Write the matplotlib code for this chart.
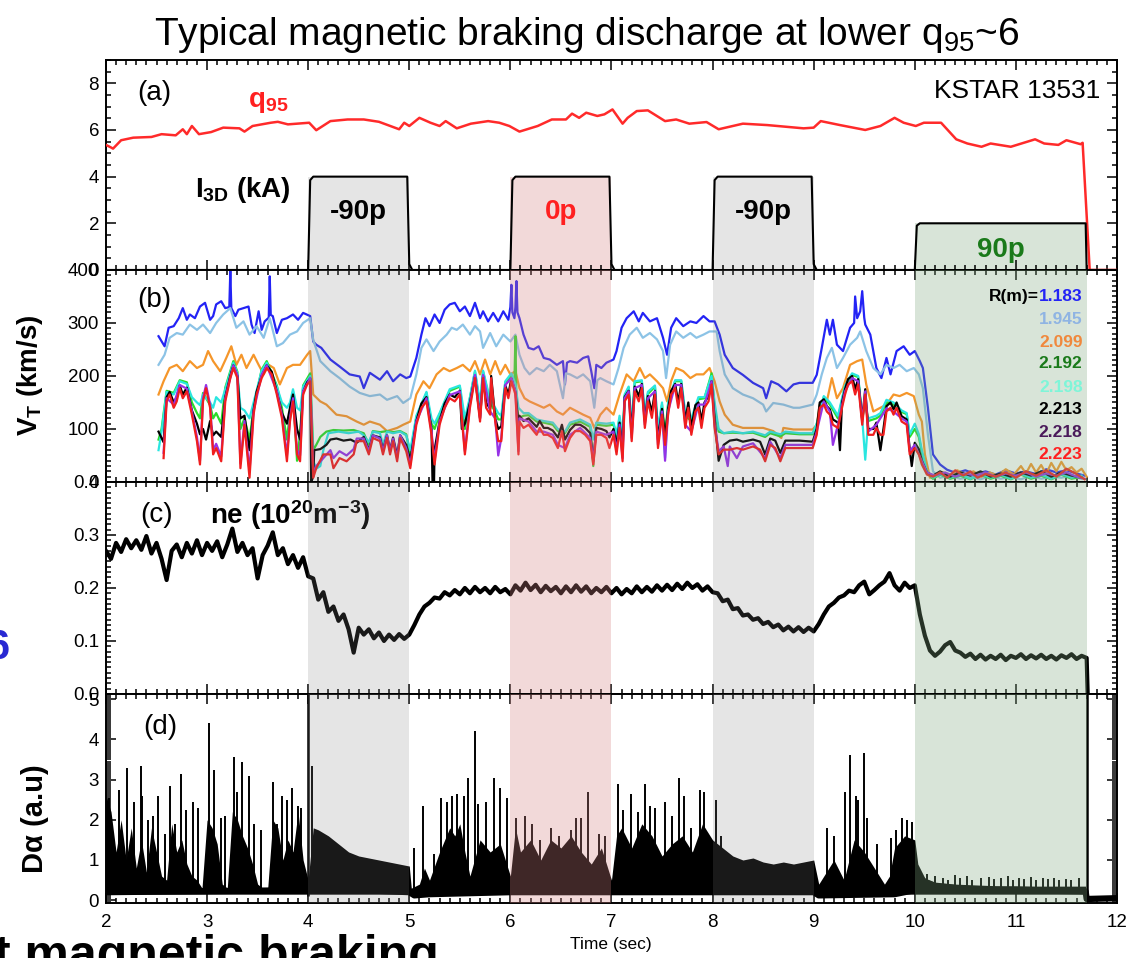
import numpy as np
import matplotlib
matplotlib.use('agg')
import matplotlib.pyplot as plt
from matplotlib.ticker import MultipleLocator

plt.rcParams['font.family'] = ['Liberation Sans', 'DejaVu Sans']
plt.rcParams['mathtext.default'] = 'regular'

# ---- RMP pulses (I3D) ----
pulse_on = [4.0, 6.0, 8.0, 10.0]
pulse_off = [5.0, 7.0, 9.0, 11.70]
pulse_amp = [4.0, 4.0, 4.0, 2.0]
pulse_name = ['-90p', '0p', '-90p', '90p']
pulse_txt_col = ['black', '#ff2020', 'black', '#1a7a1a']
shade_col = ['#808080', '#d48484', '#808080', '#80a880']
shade_alpha = [0.2, 0.3, 0.2, 0.3]

i3d_t = [2.0, 4.0, 4.02, 4.05, 4.98, 5.0, 5.03, 6.0, 6.02, 6.05, 6.98, 7.0, 7.03,
         8.0, 8.02, 8.05, 8.98, 9.0, 9.03, 10.0, 10.02, 10.05, 11.69, 11.70, 12.0]
i3d_v = [0, 0, 3.85, 4.0, 4.0, 0.25, 0, 0, 3.85, 4.0, 4.0, 0.25, 0,
         0, 3.85, 4.0, 4.0, 0.25, 0, 0, 1.9, 2.0, 2.0, 0, 0]

# ---- q95 ----
q95_t = [2.0, 2.05, 2.07, 2.15, 2.27, 2.45, 2.55, 2.69, 2.76, 2.80, 2.85, 2.92, 3.04, 3.16,
         3.32, 3.37, 3.45, 3.63, 3.70, 3.80, 4.01, 4.08, 4.22, 4.39, 4.55, 4.70, 4.90, 4.95,
         5.0, 5.10, 5.21, 5.30, 5.36, 5.47, 5.61, 5.78, 5.89, 5.99, 6.09, 6.27, 6.41, 6.55,
         6.61, 6.68, 6.75, 6.86, 6.93, 7.01, 7.11, 7.16, 7.25, 7.36, 7.53, 7.64, 7.77, 7.94,
         8.06, 8.30, 8.54, 8.90, 9.0, 9.07, 9.26, 9.51, 9.66, 9.80, 9.89, 10.01, 10.09, 10.26,
         10.41, 10.52, 10.66, 10.75, 10.95, 11.19, 11.28, 11.42, 11.50, 11.64, 11.66, 11.73, 12.0]
q95_v = [5.36, 5.25, 5.2, 5.56, 5.67, 5.70, 5.82, 5.77, 6.03, 5.82, 6.17, 5.82, 5.91, 6.1,
         6.07, 5.93, 6.17, 6.31, 6.35, 6.24, 6.31, 5.99, 6.38, 6.45, 6.45, 6.35, 6.03, 6.31,
         6.17, 6.52, 6.31, 6.17, 6.38, 6.07, 6.27, 6.38, 6.31, 6.17, 5.93, 6.17, 6.45, 6.45,
         6.70, 6.52, 6.74, 6.6, 6.67, 6.88, 6.27, 6.52, 6.81, 6.84, 6.38, 6.45, 6.27, 6.34,
         6.03, 6.27, 6.21, 6.07, 6.1, 6.38, 6.21, 6.0, 6.17, 6.52, 6.31, 6.17, 6.31, 6.31,
         5.6, 5.42, 5.28, 5.42, 5.28, 5.6, 5.42, 5.36, 5.56, 5.39, 5.45, 0.0, 0.0]

# ---- toroidal rotation V_T (km/s) ----
r_labels = ['1.183', '1.945', '2.099', '2.192', '2.198', '2.213', '2.218', '2.223']
r_label_col = ['#2323f5', '#8fb4e3', '#f0883c', '#1a7a1a', '#7ff5d8', 'black', '#4a1a5a', '#ff2020']
r_trace_col = ['#2323f5', '#8cc3e6', '#f5962a', '#2adc2a', '#2ae6e0', 'black', '#9632e6', '#f01e1e']

v1_t = [2.52, 2.58, 2.62, 2.67, 2.72, 2.76, 2.80, 2.83, 2.88, 2.93, 2.98, 3.03, 3.06, 3.09, 3.14, 3.18,
        3.22, 3.23, 3.24, 3.28, 3.31, 3.36, 3.41, 3.44, 3.47, 3.51, 3.54, 3.57, 3.61, 3.62, 3.63, 3.65,
        3.69, 3.74, 3.79, 3.85, 3.90, 3.95, 4.02, 4.05, 4.08, 4.13, 4.22, 4.31, 4.41, 4.51, 4.55, 4.61,
        4.71, 4.78, 4.84, 4.91, 4.97, 5.01, 5.07, 5.12, 5.16, 5.20, 5.25, 5.30, 5.35, 5.40, 5.45, 5.50,
        5.55, 5.60, 5.65, 5.70, 5.73, 5.78, 5.83, 5.88, 5.93, 5.98, 6.00, 6.01, 6.02, 6.04, 6.05, 6.06,
        6.07, 6.09, 6.13, 6.18, 6.23, 6.28, 6.33, 6.39, 6.46, 6.52, 6.54, 6.56, 6.59, 6.66, 6.72, 6.77,
        6.80, 6.83, 6.85, 6.90, 6.95, 7.02, 7.05, 7.10, 7.15, 7.22, 7.27, 7.31, 7.38, 7.45, 7.51, 7.55,
        7.59, 7.64, 7.71, 7.78, 7.84, 7.91, 7.97, 8.02, 8.07, 8.12, 8.20, 8.30, 8.40, 8.50, 8.53, 8.58,
        8.65, 8.73, 8.80, 8.86, 8.90, 8.99, 9.03, 9.08, 9.13, 9.16, 9.19, 9.23, 9.29, 9.36, 9.40, 9.41,
        9.43, 9.46, 9.48, 9.50, 9.51, 9.56, 9.62, 9.67, 9.72, 9.76, 9.82, 9.89, 9.95, 10.00, 10.05, 10.08,
        10.13, 10.18, 10.25, 10.32, 10.41, 10.50, 10.60, 10.70, 10.80, 10.90, 11.00, 11.10, 11.20, 11.30,
        11.40, 11.50, 11.60, 11.68]
v1_v = [275, 256, 291, 294, 309, 328, 306, 316, 309, 331, 338, 306, 313, 335, 341, 328,
        330, 398, 328, 313, 325, 328, 331, 297, 281, 322, 287, 303, 310, 388, 315, 313,
        281, 306, 309, 316, 306, 319, 313, 265, 259, 253, 231, 218, 203, 199, 177, 206,
        193, 209, 190, 203, 196, 199, 234, 278, 309, 294, 316, 300, 325, 335, 338, 322,
        331, 313, 338, 309, 322, 303, 319, 303, 322, 306, 330, 372, 320, 309, 330, 379,
        320, 309, 278, 253, 250, 256, 234, 231, 221, 228, 184, 225, 228, 225, 234, 237,
        209, 177, 221, 215, 225, 231, 247, 291, 309, 322, 303, 319, 303, 309, 272, 240,
        291, 309, 294, 303, 300, 313, 303, 303, 278, 240, 215, 202, 187, 177, 158, 190,
        184, 171, 184, 187, 187, 187, 202, 253, 306, 278, 306, 259, 247, 291, 300, 350,
        309, 322, 360, 310, 297, 278, 215, 196, 234, 203, 247, 256, 240, 247, 228, 215,
        140, 52, 33, 23, 17, 22, 15, 20, 14, 22, 16, 20, 15, 24,
        18, 22, 16, 12]

v2_t = [2.52, 2.58, 2.63, 2.70, 2.76, 2.83, 2.90, 2.96, 3.03, 3.09, 3.16, 3.23, 3.29, 3.36, 3.42, 3.49,
        3.56, 3.62, 3.69, 3.75, 3.82, 3.89, 3.95, 4.02, 4.05, 4.12, 4.22, 4.31, 4.41, 4.51, 4.61, 4.71,
        4.78, 4.88, 4.94, 5.01, 5.07, 5.12, 5.17, 5.24, 5.30, 5.37, 5.42, 5.47, 5.53, 5.60, 5.65, 5.70,
        5.73, 5.80, 5.86, 5.93, 6.00, 6.05, 6.09, 6.14, 6.19, 6.26, 6.33, 6.39, 6.46, 6.52, 6.55, 6.59,
        6.66, 6.72, 6.79, 6.83, 6.86, 6.89, 6.95, 7.02, 7.07, 7.12, 7.18, 7.25, 7.31, 7.38, 7.45, 7.51,
        7.54, 7.58, 7.64, 7.71, 7.78, 7.84, 7.91, 7.97, 8.04, 8.07, 8.12, 8.20, 8.30, 8.40, 8.50, 8.53,
        8.60, 8.70, 8.80, 8.86, 8.99, 9.03, 9.08, 9.13, 9.18, 9.23, 9.29, 9.36, 9.43, 9.46, 9.52, 9.59,
        9.66, 9.72, 9.79, 9.85, 9.92, 9.99, 10.04, 10.08, 10.13, 10.18, 10.25, 10.35, 10.45, 10.55,
        10.65, 10.75, 10.85, 10.95, 11.05, 11.15, 11.25, 11.35, 11.45, 11.55, 11.65]
v2_v = [221, 240, 272, 281, 278, 297, 287, 297, 281, 300, 316, 328, 291, 303, 278, 294,
        272, 309, 256, 262, 278, 284, 300, 309, 268, 228, 209, 196, 180, 168, 162, 165,
        155, 162, 149, 158, 203, 253, 269, 247, 265, 278, 291, 287, 297, 278, 294, 284,
        253, 281, 256, 278, 265, 278, 240, 215, 203, 215, 209, 221, 209, 158, 205, 203,
        196, 203, 190, 140, 192, 196, 190, 184, 215, 253, 278, 291, 272, 281, 269, 247,
        196, 259, 284, 272, 281, 272, 278, 284, 284, 247, 203, 177, 165, 158, 146, 133,
        149, 146, 140, 140, 146, 165, 203, 234, 253, 215, 234, 259, 272, 284, 247, 215,
        203, 221, 215, 221, 209, 215, 203, 177, 89, 20, 8, 12, 6, 10,
        5, 12, 6, 10, 5, 12, 6, 10, 8, 12, 6]

v3_t = [2.52, 2.57, 2.63, 2.70, 2.76, 2.83, 2.90, 2.96, 3.01, 3.06, 3.13, 3.19, 3.24, 3.29, 3.34, 3.39,
        3.46, 3.51, 3.56, 3.61, 3.66, 3.72, 3.79, 3.85, 3.92, 3.99, 4.02, 4.05, 4.12, 4.18, 4.28, 4.38,
        4.48, 4.55, 4.61, 4.71, 4.78, 4.88, 4.94, 5.01, 5.07, 5.14, 5.20, 5.27, 5.34, 5.40, 5.47, 5.53,
        5.60, 5.65, 5.70, 5.75, 5.80, 5.85, 5.90, 5.95, 6.00, 6.05, 6.09, 6.14, 6.19, 6.26, 6.33, 6.39,
        6.46, 6.52, 6.59, 6.66, 6.72, 6.79, 6.83, 6.89, 6.95, 7.02, 7.08, 7.15, 7.22, 7.28, 7.33, 7.38,
        7.45, 7.51, 7.55, 7.59, 7.64, 7.71, 7.78, 7.84, 7.91, 7.97, 8.02, 8.07, 8.12, 8.20, 8.30, 8.40,
        8.50, 8.60, 8.68, 8.70, 8.80, 8.99, 9.03, 9.06, 9.13, 9.18, 9.23, 9.29, 9.36, 9.43, 9.48, 9.52,
        9.59, 9.66, 9.72, 9.79, 9.85, 9.92, 9.99, 10.04, 10.07, 10.10, 10.15, 10.20, 10.28, 10.35, 10.42,
        10.50, 10.58, 10.66, 10.74, 10.82, 10.90, 10.98, 11.05, 11.10, 11.15, 11.20, 11.25, 11.30, 11.35,
        11.40, 11.45, 11.50, 11.55, 11.60, 11.65, 11.70]
v3_v = [165, 190, 215, 221, 209, 228, 215, 221, 247, 228, 209, 234, 256, 221, 240, 215,
        240, 221, 203, 221, 215, 184, 215, 221, 221, 240, 247, 165, 152, 146, 127, 124,
        114, 108, 114, 108, 96, 102, 108, 114, 165, 190, 177, 203, 215, 209, 215, 221,
        209, 228, 203, 231, 203, 228, 203, 221, 203, 209, 177, 158, 152, 146, 140, 146,
        133, 127, 140, 133, 127, 121, 102, 127, 140, 127, 165, 203, 190, 215, 196, 203,
        190, 177, 152, 190, 215, 209, 196, 203, 203, 215, 190, 152, 127, 108, 102, 102,
        102, 96, 83, 102, 99, 99, 108, 146, 152, 196, 158, 177, 221, 228, 231, 184,
        133, 140, 146, 165, 162, 168, 162, 127, 114, 52, 8, 10, 18, 12, 22,
        14, 20, 10, 18, 12, 24, 14, 30, 16, 34, 18, 32, 15, 36,
        20, 38, 22, 28, 18, 25, 10]

v4_t = [2.52, 2.55, 2.60, 2.67, 2.73, 2.80, 2.85, 2.90, 2.93, 2.96, 3.03, 3.06, 3.09, 3.14, 3.18, 3.26,
        3.30, 3.33, 3.37, 3.42, 3.46, 3.54, 3.59, 3.69, 3.74, 3.79, 3.82, 3.85, 3.89, 3.92, 3.95, 4.02,
        4.05, 4.08, 4.12, 4.18, 4.25, 4.35, 4.45, 4.55, 4.60, 4.64, 4.71, 4.78, 4.84, 4.91, 4.97, 5.01,
        5.07, 5.17, 5.22, 5.25, 5.30, 5.40, 5.50, 5.55, 5.60, 5.65, 5.70, 5.73, 5.80, 5.85, 5.88, 5.91,
        5.95, 6.01, 6.04, 6.05, 6.06, 6.08, 6.13, 6.18, 6.26, 6.33, 6.42, 6.47, 6.54, 6.59, 6.69, 6.79,
        6.82, 6.85, 6.95, 7.02, 7.05, 7.08, 7.11, 7.13, 7.17, 7.20, 7.23, 7.30, 7.33, 7.36, 7.43, 7.46,
        7.50, 7.53, 7.56, 7.63, 7.69, 7.73, 7.79, 7.86, 7.92, 7.99, 8.02, 8.06, 8.11, 8.20, 8.30, 8.40,
        8.52, 8.57, 8.67, 8.72, 8.86, 8.99, 9.03, 9.10, 9.16, 9.24, 9.31, 9.38, 9.44, 9.48, 9.51, 9.54,
        9.62, 9.66, 9.72, 9.79, 9.87, 9.92, 9.95, 10.00, 10.04, 10.07, 10.12, 10.18, 10.25, 10.35, 10.45,
        10.55, 10.65, 10.75, 10.85, 10.95, 11.05, 11.15, 11.25, 11.35, 11.45, 11.55, 11.65]
v4_v = [80, 100, 172, 168, 192, 188, 150, 130, 120, 168, 145, 120, 130, 110, 178, 228,
        208, 100, 120, 80, 140, 212, 228, 182, 140, 80, 130, 170, 40, 90, 182, 205,
        60, 70, 85, 95, 98, 97, 98, 92, 70, 96, 94, 96, 94, 96, 90, 50,
        122, 168, 110, 100, 128, 172, 180, 100, 158, 208, 140, 208, 150, 132, 118, 118,
        188, 200, 190, 275, 150, 120, 125, 126, 114, 112, 108, 96, 92, 108, 114, 104,
        30, 108, 106, 108, 86, 120, 75, 162, 178, 105, 188, 190, 125, 166, 180, 95,
        146, 90, 146, 190, 190, 125, 115, 156, 158, 205, 140, 95, 92, 93, 92, 93,
        85, 92, 86, 92, 90, 90, 108, 160, 146, 120, 180, 202, 198, 118, 150, 115,
        120, 125, 150, 146, 132, 128, 85, 100, 85, 55, 18, 6, 14, 6, 12,
        5, 14, 6, 12, 5, 14, 6, 12, 5, 14, 6, 10]

v5_t = [2.52, 2.55, 2.60, 2.67, 2.73, 2.80, 2.85, 2.90, 2.93, 2.96, 3.03, 3.06, 3.09, 3.14, 3.18, 3.26,
        3.30, 3.33, 3.37, 3.42, 3.46, 3.54, 3.59, 3.69, 3.74, 3.79, 3.82, 3.85, 3.89, 3.92, 3.95, 4.02,
        4.05, 4.08, 4.12, 4.15, 4.20, 4.30, 4.40, 4.50, 4.55, 4.60, 4.64, 4.71, 4.74, 4.78, 4.84, 4.91,
        4.97, 5.01, 5.07, 5.17, 5.22, 5.25, 5.30, 5.40, 5.50, 5.55, 5.60, 5.65, 5.70, 5.73, 5.80, 5.85,
        5.88, 5.91, 5.95, 6.01, 6.05, 6.08, 6.13, 6.18, 6.26, 6.33, 6.42, 6.47, 6.54, 6.59, 6.69, 6.79,
        6.82, 6.85, 6.95, 7.02, 7.05, 7.08, 7.11, 7.13, 7.17, 7.20, 7.23, 7.30, 7.33, 7.36, 7.43, 7.46,
        7.50, 7.53, 7.56, 7.63, 7.69, 7.73, 7.79, 7.86, 7.92, 7.99, 8.02, 8.06, 8.11, 8.20, 8.30, 8.40,
        8.52, 8.57, 8.67, 8.72, 8.86, 8.99, 9.03, 9.10, 9.16, 9.24, 9.31, 9.38, 9.44, 9.48, 9.51, 9.54,
        9.62, 9.66, 9.72, 9.79, 9.87, 9.92, 9.95, 10.00, 10.04, 10.07, 10.12, 10.18, 10.25, 10.35, 10.45,
        10.55, 10.65, 10.75, 10.85, 10.95, 11.05, 11.15, 11.25, 11.35, 11.45, 11.55, 11.65]
v5_v = [60, 95, 170, 165, 190, 185, 160, 150, 145, 165, 150, 140, 160, 150, 175, 225,
        205, 140, 135, 120, 150, 210, 225, 180, 150, 140, 150, 175, 140, 135, 180, 200,
        40, 25, 30, 60, 92, 95, 92, 95, 88, 75, 95, 92, 70, 95, 92, 95,
        88, 60, 125, 170, 120, 110, 130, 175, 182, 120, 160, 210, 150, 210, 155, 140,
        130, 125, 190, 205, 185, 140, 130, 130, 118, 115, 112, 100, 95, 112, 118, 108,
        80, 112, 110, 112, 90, 125, 80, 165, 180, 110, 190, 192, 130, 170, 182, 100,
        150, 45, 150, 192, 192, 130, 120, 160, 160, 200, 150, 100, 92, 95, 92, 95,
        88, 95, 90, 95, 92, 92, 110, 162, 150, 125, 182, 205, 200, 120, 42, 120,
        125, 130, 155, 150, 135, 130, 90, 110, 90, 60, 20, 8, 15, 8, 14,
        6, 15, 8, 14, 6, 15, 8, 14, 6, 15, 8, 12]

v6_t = [2.52, 2.57, 2.60, 2.63, 2.67, 2.70, 2.73, 2.76, 2.80, 2.85, 2.90, 2.93, 2.96, 2.99, 3.03, 3.06,
        3.09, 3.14, 3.18, 3.23, 3.26, 3.30, 3.33, 3.37, 3.42, 3.46, 3.49, 3.54, 3.59, 3.64, 3.69, 3.74,
        3.79, 3.82, 3.85, 3.89, 3.92, 3.95, 3.99, 4.02, 4.03, 4.05, 4.06, 4.12, 4.18, 4.22, 4.28, 4.35,
        4.42, 4.48, 4.55, 4.60, 4.64, 4.71, 4.74, 4.78, 4.81, 4.84, 4.88, 4.91, 4.97, 5.01, 5.07, 5.12,
        5.17, 5.22, 5.23, 5.245, 5.25, 5.30, 5.35, 5.40, 5.45, 5.50, 5.52, 5.55, 5.60, 5.65, 5.70, 5.73,
        5.76, 5.80, 5.81, 5.85, 5.88, 5.91, 5.95, 5.98, 6.01, 6.05, 6.08, 6.09, 6.13, 6.18, 6.23, 6.26,
        6.29, 6.33, 6.37, 6.42, 6.47, 6.51, 6.54, 6.59, 6.64, 6.69, 6.74, 6.79, 6.82, 6.85, 6.90, 6.95,
        6.98, 7.02, 7.05, 7.08, 7.11, 7.13, 7.17, 7.20, 7.23, 7.27, 7.30, 7.33, 7.36, 7.40, 7.43, 7.46,
        7.50, 7.53, 7.56, 7.59, 7.63, 7.66, 7.69, 7.73, 7.76, 7.79, 7.83, 7.86, 7.89, 7.92, 7.96, 7.99,
        8.02, 8.06, 8.11, 8.17, 8.24, 8.30, 8.40, 8.47, 8.52, 8.57, 8.62, 8.67, 8.72, 8.80, 8.86, 8.99,
        9.03, 9.06, 9.10, 9.13, 9.16, 9.19, 9.24, 9.26, 9.28, 9.31, 9.34, 9.38, 9.41, 9.44, 9.48, 9.51,
        9.54, 9.59, 9.62, 9.66, 9.69, 9.72, 9.76, 9.79, 9.82, 9.87, 9.92, 9.95, 9.97, 10.00, 10.04, 10.07,
        10.12, 10.18, 10.25, 10.35, 10.45, 10.55, 10.65, 10.75, 10.85, 10.95, 11.05, 11.15, 11.25, 11.35,
        11.45, 11.55, 11.65]
v6_v = [95, 75, 160, 170, 150, 160, 182, 165, 178, 135, 110, 90, 100, 80, 115, 88,
        95, 85, 160, 200, 220, 200, 120, 125, 60, 135, 170, 200, 220, 208, 170, 130,
        110, 140, 165, 100, 80, 170, 188, 195, 0, 10, 60, 62, 70, 80, 82, 78,
        80, 74, 85, 60, 88, 84, 60, 88, 60, 84, 50, 88, 70, 40, 115, 148,
        160, 100, 0, 0, 60, 115, 148, 165, 160, 172, 100, 110, 150, 200, 120, 200,
        150, 138, 200, 120, 100, 105, 182, 165, 195, 170, 110, 125, 115, 120, 110, 104,
        115, 102, 102, 97, 84, 108, 80, 98, 108, 108, 102, 92, 40, 102, 100, 96,
        84, 100, 70, 112, 60, 160, 172, 95, 180, 162, 185, 115, 162, 132, 172, 80,
        138, 85, 138, 172, 185, 150, 185, 115, 150, 102, 145, 150, 115, 150, 162, 190,
        120, 40, 70, 78, 80, 76, 80, 76, 52, 82, 78, 55, 78, 78, 78, 76,
        100, 150, 156, 143, 137, 118, 112, 60, 150, 175, 194, 200, 175, 194, 118, 175,
        100, 100, 112, 60, 100, 143, 150, 137, 150, 124, 118, 62, 30, 74, 62, 40,
        18, 12, 20, 10, 18, 12, 20, 10, 16, 10, 18, 12, 20, 10,
        18, 12, 8]

v7_t = [2.57, 2.60, 2.67, 2.73, 2.80, 2.85, 2.90, 2.93, 2.96, 2.99, 3.03, 3.06, 3.09, 3.14, 3.18, 3.26,
        3.30, 3.33, 3.37, 3.42, 3.46, 3.54, 3.59, 3.69, 3.74, 3.79, 3.82, 3.85, 3.89, 3.92, 3.95, 4.02,
        4.05, 4.08, 4.22, 4.25, 4.31, 4.38, 4.45, 4.48, 4.55, 4.60, 4.64, 4.71, 4.74, 4.78, 4.81, 4.84,
        4.88, 4.91, 4.97, 5.01, 5.07, 5.17, 5.22, 5.25, 5.30, 5.40, 5.50, 5.55, 5.60, 5.65, 5.70, 5.73,
        5.80, 5.85, 5.88, 5.91, 5.95, 6.01, 6.05, 6.08, 6.09, 6.18, 6.26, 6.33, 6.42, 6.47, 6.54, 6.59,
        6.69, 6.79, 6.82, 6.85, 6.95, 7.02, 7.05, 7.08, 7.11, 7.13, 7.17, 7.20, 7.23, 7.30, 7.33, 7.36,
        7.43, 7.46, 7.50, 7.53, 7.56, 7.63, 7.69, 7.73, 7.79, 7.86, 7.92, 7.99, 8.02, 8.06, 8.11, 8.15,
        8.17, 8.24, 8.30, 8.40, 8.52, 8.57, 8.67, 8.72, 8.86, 8.99, 9.03, 9.10, 9.16, 9.19, 9.24, 9.31,
        9.38, 9.44, 9.48, 9.51, 9.54, 9.62, 9.72, 9.79, 9.87, 9.92, 9.95, 10.00, 10.07, 10.12, 10.2,
        10.3, 10.4, 10.5, 10.6, 10.7, 10.8, 10.9, 11.0, 11.1, 11.2, 11.3, 11.4, 11.5, 11.6, 11.68]
v7_v = [55, 158, 146, 183, 176, 133, 85, 40, 158, 183, 146, 60, 72, 48, 158, 220,
        202, 35, 115, 20, 133, 202, 220, 171, 127, 50, 120, 158, 60, 50, 171, 196,
        15, 30, 60, 45, 58, 50, 62, 82, 82, 58, 88, 82, 58, 88, 58, 82,
        45, 88, 64, 32, 114, 158, 95, 40, 114, 164, 171, 58, 146, 202, 120, 202,
        133, 120, 50, 83, 183, 196, 171, 58, 120, 114, 95, 95, 89, 70, 64, 89,
        102, 83, 39, 95, 89, 95, 58, 108, 45, 158, 171, 83, 177, 183, 108, 158,
        171, 70, 133, 40, 133, 183, 183, 108, 95, 146, 146, 190, 108, 58, 67, 30,
        67, 45, 67, 73, 45, 76, 45, 70, 70, 70, 95, 152, 133, 70, 108, 171,
        196, 190, 114, 171, 95, 108, 139, 133, 120, 114, 58, 70, 39, 18, 12,
        18, 10, 16, 12, 18, 10, 16, 12, 18, 10, 16, 12, 18, 10, 6]

v8_t = [2.57, 2.60, 2.63, 2.67, 2.70, 2.73, 2.76, 2.80, 2.85, 2.90, 2.93, 2.96, 2.99, 3.03, 3.06, 3.09,
        3.14, 3.18, 3.23, 3.26, 3.30, 3.33, 3.37, 3.42, 3.46, 3.49, 3.54, 3.59, 3.64, 3.69, 3.74, 3.79,
        3.82, 3.85, 3.89, 3.92, 3.95, 3.99, 4.02, 4.05, 4.08, 4.15, 4.22, 4.25, 4.31, 4.38, 4.45, 4.48,
        4.55, 4.60, 4.64, 4.71, 4.74, 4.78, 4.81, 4.84, 4.88, 4.91, 4.97, 5.01, 5.07, 5.12, 5.17, 5.22,
        5.25, 5.30, 5.35, 5.40, 5.45, 5.50, 5.55, 5.60, 5.65, 5.70, 5.73, 5.76, 5.80, 5.81, 5.85, 5.88,
        5.91, 5.95, 5.98, 6.01, 6.05, 6.08, 6.09, 6.13, 6.18, 6.23, 6.26, 6.29, 6.33, 6.37, 6.42, 6.47,
        6.51, 6.54, 6.59, 6.64, 6.69, 6.74, 6.79, 6.82, 6.85, 6.90, 6.95, 6.98, 7.02, 7.05, 7.08, 7.11,
        7.13, 7.17, 7.20, 7.23, 7.27, 7.30, 7.33, 7.36, 7.40, 7.43, 7.46, 7.50, 7.53, 7.56, 7.59, 7.63,
        7.66, 7.69, 7.73, 7.76, 7.79, 7.83, 7.86, 7.89, 7.92, 7.96, 7.99, 8.02, 8.06, 8.11, 8.17, 8.24,
        8.30, 8.40, 8.47, 8.52, 8.57, 8.62, 8.67, 8.72, 8.80, 8.86, 8.99, 9.03, 9.06, 9.10, 9.13, 9.16,
        9.19, 9.24, 9.28, 9.31, 9.34, 9.38, 9.41, 9.44, 9.48, 9.51, 9.54, 9.59, 9.62, 9.66, 9.69, 9.72,
        9.76, 9.79, 9.82, 9.87, 9.92, 9.95, 10.00, 10.04, 10.07, 10.12, 10.18, 10.25, 10.32, 10.40, 10.48,
        10.55, 10.62, 10.70, 10.80, 10.90, 11.00, 11.10, 11.20, 11.30, 11.40, 11.50, 11.60, 11.68]
v8_v = [45, 152, 165, 140, 152, 177, 158, 171, 127, 77, 33, 152, 177, 140, 52, 64,
        39, 152, 196, 215, 196, 26, 108, 8, 127, 165, 196, 215, 203, 165, 121, 39,
        114, 152, 52, 39, 165, 184, 190, 8, 26, 52, 52, 26, 45, 39, 52, 77,
        77, 52, 83, 77, 52, 83, 52, 77, 39, 83, 58, 26, 108, 140, 152, 89,
        33, 108, 140, 158, 152, 165, 52, 140, 196, 114, 196, 140, 127, 196, 114, 77,
        77, 177, 158, 190, 165, 52, 114, 102, 108, 96, 89, 102, 89, 89, 83, 64,
        96, 58, 83, 96, 96, 89, 77, 33, 89, 89, 83, 64, 89, 52, 102, 39,
        152, 165, 77, 171, 152, 177, 102, 152, 121, 165, 64, 127, 70, 127, 165, 177,
        140, 177, 102, 140, 89, 133, 140, 102, 140, 152, 184, 102, 52, 61, 61, 64,
        61, 67, 61, 39, 70, 64, 39, 64, 64, 64, 64, 89, 140, 146, 133, 127,
        108, 102, 140, 165, 184, 190, 165, 184, 108, 165, 89, 89, 102, 89, 89, 133,
        140, 127, 140, 114, 108, 52, 64, 52, 33, 14, 10, 18, 8, 22, 12,
        20, 8, 15, 10, 18, 8, 20, 12, 22, 10, 25, 15, 5]

vt_t = [v1_t, v2_t, v3_t, v4_t, v5_t, v6_t, v7_t, v8_t]
vt_v = [v1_v, v2_v, v3_v, v4_v, v5_v, v6_v, v7_v, v8_v]

# ---- line averaged density (1e20 m^-3) ----
ne_t = [2.00, 2.05, 2.10, 2.15, 2.20, 2.25, 2.30, 2.35, 2.40, 2.45, 2.50, 2.55, 2.60, 2.65, 2.70, 2.75,
        2.80, 2.85, 2.90, 2.95, 3.00, 3.05, 3.10, 3.15, 3.20, 3.25, 3.30, 3.35, 3.40, 3.45, 3.50, 3.55,
        3.60, 3.65, 3.70, 3.75, 3.80, 3.85, 3.90, 3.95, 4.00, 4.05, 4.10, 4.15, 4.20, 4.25, 4.30, 4.35,
        4.40, 4.45, 4.50, 4.55, 4.60, 4.65, 4.70, 4.75, 4.80, 4.85, 4.90, 4.95, 5.00, 5.05, 5.10, 5.15,
        5.20, 5.25, 5.30, 5.35, 5.40, 5.45, 5.50, 5.55, 5.60, 5.65, 5.70, 5.75, 5.80, 5.85, 5.90, 5.95,
        6.00, 6.05, 6.10, 6.15, 6.20, 6.25, 6.30, 6.35, 6.40, 6.45, 6.50, 6.55, 6.60, 6.65, 6.70, 6.75,
        6.80, 6.85, 6.90, 6.95, 7.00, 7.05, 7.10, 7.15, 7.20, 7.25, 7.30, 7.35, 7.40, 7.45, 7.50, 7.55,
        7.60, 7.65, 7.70, 7.75, 7.80, 7.85, 7.90, 7.95, 8.00, 8.05, 8.10, 8.15, 8.20, 8.25, 8.30, 8.35,
        8.40, 8.45, 8.50, 8.55, 8.60, 8.65, 8.70, 8.75, 8.80, 8.85, 8.90, 8.95, 9.00, 9.05, 9.10, 9.15,
        9.20, 9.25, 9.30, 9.35, 9.40, 9.45, 9.50, 9.55, 9.60, 9.65, 9.70, 9.75, 9.80, 9.85, 9.90, 9.95,
        10.00, 10.05, 10.10, 10.15, 10.20, 10.25, 10.30, 10.35, 10.40, 10.45, 10.50, 10.55, 10.60, 10.65,
        10.70, 10.75, 10.80, 10.85, 10.90, 10.95, 11.00, 11.05, 11.10, 11.15, 11.20, 11.25, 11.30, 11.35,
        11.40, 11.45, 11.50, 11.55, 11.60, 11.65, 11.70, 11.71]
ne_v = [0.270, 0.255, 0.285, 0.268, 0.292, 0.275, 0.290, 0.272, 0.298, 0.265, 0.285, 0.255, 0.215, 0.270, 0.282, 0.258,
        0.285, 0.265, 0.290, 0.262, 0.285, 0.270, 0.288, 0.258, 0.282, 0.312, 0.268, 0.285, 0.262, 0.275, 0.218, 0.262,
        0.280, 0.305, 0.262, 0.275, 0.245, 0.262, 0.238, 0.258, 0.222, 0.218, 0.178, 0.192, 0.155, 0.165, 0.138, 0.150,
        0.122, 0.078, 0.125, 0.112, 0.122, 0.105, 0.116, 0.100, 0.112, 0.102, 0.113, 0.104, 0.112, 0.130, 0.150, 0.165,
        0.172, 0.182, 0.180, 0.192, 0.186, 0.196, 0.188, 0.200, 0.190, 0.202, 0.192, 0.200, 0.190, 0.202, 0.192, 0.198,
        0.188, 0.205, 0.195, 0.210, 0.196, 0.206, 0.192, 0.204, 0.194, 0.202, 0.190, 0.203, 0.192, 0.205, 0.193, 0.203,
        0.190, 0.200, 0.192, 0.202, 0.190, 0.200, 0.188, 0.198, 0.190, 0.203, 0.192, 0.202, 0.193, 0.205, 0.195, 0.206,
        0.196, 0.208, 0.198, 0.210, 0.200, 0.207, 0.195, 0.203, 0.192, 0.190, 0.175, 0.178, 0.160, 0.162, 0.148, 0.150,
        0.140, 0.143, 0.132, 0.136, 0.126, 0.131, 0.120, 0.127, 0.118, 0.126, 0.117, 0.125, 0.118, 0.132, 0.150, 0.165,
        0.172, 0.182, 0.186, 0.195, 0.192, 0.205, 0.212, 0.188, 0.196, 0.205, 0.212, 0.228, 0.205, 0.195, 0.210, 0.200,
        0.205, 0.150, 0.110, 0.082, 0.072, 0.080, 0.092, 0.098, 0.082, 0.078, 0.070, 0.076, 0.066, 0.074,
        0.065, 0.072, 0.066, 0.074, 0.064, 0.072, 0.068, 0.075, 0.066, 0.073, 0.067, 0.074, 0.066, 0.072,
        0.065, 0.073, 0.068, 0.075, 0.066, 0.072, 0.068, 0.0]

# ---- D-alpha (a.u.) ----
base_t = [2.0, 4.0, 4.05, 5.0, 5.05, 5.2, 6.0, 7.0, 8.0, 9.0, 9.05, 9.8, 10.0, 10.05, 10.1, 10.2,
          10.5, 11.0, 11.69, 11.70, 12.0]
base_v = [0.2, 0.25, 0.3, 0.2, 0.12, 0.15, 0.2, 0.2, 0.2, 0.2, 0.12, 0.15, 0.25, 0.55, 0.45, 0.35,
          0.28, 0.25, 0.22, 0.03, 0.05]
grass_t = [2.0, 2.05, 2.1, 2.15, 2.2, 2.25, 2.3, 2.35, 2.4, 2.45, 2.5, 2.55, 2.6, 2.65, 2.7, 2.75,
           2.8, 2.85, 2.9, 2.95, 3.0, 3.05, 3.1, 3.15, 3.2, 3.25, 3.3, 3.35, 3.4, 3.45, 3.5, 3.55,
           3.6, 3.65, 3.7, 3.75, 3.8, 3.85, 3.9, 3.95, 4.0, 4.05, 4.1, 4.2, 4.3, 4.4, 4.5, 4.6,
           4.7, 4.8, 4.9, 5.0, 5.02, 5.1, 5.15, 5.2, 5.3, 5.4, 5.45, 5.5, 5.55, 5.6, 5.7, 5.8,
           5.9, 6.0, 6.05, 6.1, 6.2, 6.3, 6.4, 6.5, 6.6, 6.7, 6.8, 6.9, 7.0, 7.05, 7.1, 7.2,
           7.3, 7.4, 7.5, 7.6, 7.7, 7.8, 7.9, 8.0, 8.1, 8.2, 8.3, 8.4, 8.5, 8.6, 8.7, 8.8,
           8.9, 9.0, 9.05, 9.1, 9.2, 9.3, 9.4, 9.5, 9.6, 9.7, 9.75, 9.8, 9.9, 10.0, 10.03, 10.1,
           10.2, 10.4, 10.6, 10.8, 11.0, 11.2, 11.4, 11.6, 11.69]
grass_v = [2.6, 2.2, 1.2, 2.0, 1.0, 1.8, 0.8, 1.5, 0.7, 1.8, 1.2, 0.6, 0.5, 1.9, 1.2, 1.5,
           0.9, 0.6, 0.5, 0.3, 2.0, 1.8, 1.4, 0.4, 0.3, 2.2, 2.0, 1.6, 1.3, 0.9, 0.4, 0.3,
           0.3, 2.0, 1.8, 1.0, 1.5, 1.2, 2.2, 1.0, 0.5, 1.8, 1.75, 1.6, 1.4, 1.2, 1.1, 1.05,
           1.0, 0.95, 0.9, 0.85, 0.3, 0.4, 0.8, 0.5, 1.2, 1.8, 1.6, 1.9, 1.2, 0.6, 1.5, 1.2,
           1.4, 0.6, 1.8, 1.2, 1.5, 1.0, 1.5, 1.3, 1.6, 1.2, 0.9, 1.3, 0.5, 1.6, 1.8, 1.3,
           1.9, 1.6, 1.1, 1.4, 1.6, 1.2, 1.9, 1.5, 1.3, 1.1, 1.0, 1.05, 0.95, 0.9, 0.95, 0.9,
           0.95, 1.0, 0.4, 0.6, 1.0, 0.5, 1.5, 1.2, 0.8, 0.4, 0.6, 1.3, 1.6, 1.5, 0.9, 0.55,
           0.45, 0.4, 0.38, 0.36, 0.36, 0.35, 0.35, 0.35, 0.35]
spike_t = [2.03, 2.13, 2.21, 2.28, 2.35, 2.36, 2.42, 2.47, 2.51, 2.58, 2.63, 2.68, 2.74, 2.79, 2.86, 2.91,
           3.02, 3.07, 3.14, 3.18, 3.27, 3.30, 3.35, 3.41, 3.46, 3.53, 3.65, 3.69, 3.74, 3.79, 3.84, 3.90,
           3.93, 4.04, 5.05, 5.14, 5.24, 5.31, 5.37, 5.42, 5.47, 5.54, 5.58, 5.65, 5.68, 5.76, 5.84, 5.90,
           5.97, 6.06, 6.14, 6.21, 6.29, 6.40, 6.48, 6.60, 6.65, 6.70, 6.77, 6.88, 6.94, 7.06, 7.11, 7.19,
           7.26, 7.33, 7.38, 7.43, 7.53, 7.60, 7.67, 7.72, 7.79, 7.88, 7.92, 8.03, 8.08, 9.13, 9.20, 9.31,
           9.36, 9.42, 9.44, 9.50, 9.53, 9.63, 9.76, 9.81, 9.87, 9.92, 9.97, 10.01,
           10.12, 10.2, 10.28, 10.33, 10.4, 10.45, 10.52, 10.57, 10.65, 10.73, 10.78, 10.85, 10.92, 10.97,
           11.03, 11.08, 11.15, 11.2, 11.27, 11.32, 11.38, 11.43, 11.5, 11.55, 11.62]
spike_h = [2.55, 2.75, 3.3, 2.45, 3.35, 2.6, 2.0, 2.1, 2.6, 1.65, 2.85, 1.9, 3.15, 2.25, 2.45, 2.3,
           4.4, 3.25, 2.05, 2.1, 3.55, 2.7, 3.45, 3.1, 1.9, 1.75, 2.95, 1.9, 2.6, 2.5, 2.8, 2.35,
           2.3, 3.35, 1.3, 2.35, 1.15, 2.55, 2.45, 2.6, 2.65, 2.6, 3.05, 4.2, 2.4, 2.45, 3.05, 2.8,
           2.55, 2.05, 2.1, 1.9, 1.5, 1.8, 1.6, 1.75, 2.05, 2.05, 2.7, 1.65, 1.6, 2.9, 2.25, 2.65,
           2.2, 2.9, 2.35, 2.3, 2.45, 2.1, 3.05, 2.6, 1.8, 2.75, 2.7, 2.5, 1.6, 1.8, 1.6, 2.7,
           3.6, 2.6, 2.5, 3.65, 2.05, 1.4, 1.55, 1.75, 2.05, 2.0, 1.95, 1.0,
           0.65, 0.6, 0.55, 0.5, 0.62, 0.55, 0.6, 0.5, 0.55, 0.58, 0.52, 0.55, 0.6, 0.5,
           0.55, 0.52, 0.58, 0.5, 0.55, 0.52, 0.55, 0.5, 0.52, 0.5, 0.55]
full_spike_t = [4.0, 11.70]

# ---------------- figure ----------------
fig = plt.figure(figsize=(11.26, 9.58), dpi=100)
L, W = 0.0941, 0.8979
axa = fig.add_axes([L, 0.7182, W, 0.2192])
axb = fig.add_axes([L, 0.4969, W, 0.2213])
axc = fig.add_axes([L, 0.2756, W, 0.2213])
axd = fig.add_axes([L, 0.0574, W, 0.2182])


def style(ax, ylim, ymaj, ymin, xlabels=False):
    ax.set_xlim(2, 12)
    ax.set_ylim(*ylim)
    ax.xaxis.set_major_locator(MultipleLocator(1))
    ax.xaxis.set_minor_locator(MultipleLocator(0.1))
    ax.yaxis.set_major_locator(MultipleLocator(ymaj))
    ax.yaxis.set_minor_locator(MultipleLocator(ymin))
    ax.tick_params(which='both', direction='in', top=True, right=True, width=1.1,
                   labelsize=13.5, labelbottom=xlabels)
    ax.tick_params(which='major', length=7.5)
    ax.tick_params(which='minor', length=3.5)
    ax.tick_params(axis='y', pad=5)
    ax.tick_params(axis='x', pad=8)
    for s in ax.spines.values():
        s.set_linewidth(1.4)


style(axa, (0, 9), 2, 0.5)
style(axb, (0, 400), 100, 10)
style(axc, (0, 0.4), 0.1, 0.01)
axc.yaxis.set_major_formatter(matplotlib.ticker.FormatStrFormatter('%.1f'))
style(axd, (-0.07, 5.13), 1, 0.05, xlabels=True)

# shaded RMP windows
for k in range(len(pulse_on)):
    axa.fill_between([pulse_on[k], pulse_off[k]], 0, pulse_amp[k], color=shade_col[k],
                     alpha=shade_alpha[k], lw=0, zorder=1)
    for ax in (axb, axc, axd):
        ax.axvspan(pulse_on[k], pulse_off[k], color=shade_col[k], alpha=shade_alpha[k],
                   lw=0, zorder=4)
    axa.text((pulse_on[k] + pulse_off[k]) / 2, 2.49 if pulse_amp[k] > 3 else 0.86,
             pulse_name[k], color=pulse_txt_col[k], fontsize=20, fontweight='bold',
             ha='center', va='center')

# (a) q95 and I3D
axa.plot(q95_t, q95_v, color='#ff2a2a', lw=1.8, zorder=3)
axa.plot(i3d_t, i3d_v, color='black', lw=1.5, zorder=3)
axa.text(2.31, 7.6, '(a)', fontsize=20, va='center')
axa.text(3.40, 7.2, 'q$_{95}$', color='#ff2020', fontsize=20, fontweight='bold', va='center')
axa.text(11.83, 7.67, 'KSTAR 13531', fontsize=19, ha='right', va='center')
axa.text(2.88, 3.43, 'I$_{3D}$ (kA)', fontsize=20, fontweight='bold', va='center')

# (b) V_T
for k in range(len(vt_t)):
    axb.plot(vt_t[k], vt_v[k], color=r_trace_col[k], lw=1.6, zorder=2 + 0.1 * k)
axb.text(2.31, 343, '(b)', fontsize=20, va='center')
leg_y = [349, 306, 264, 223, 179, 136, 94, 51]
for k in range(len(r_labels)):
    t = axb.text(11.66, leg_y[k], r_labels[k], color=r_label_col[k], fontsize=12.5,
                 fontweight='bold', ha='right', va='center', zorder=6)
    if k == 0:
        axb.annotate('R(m)=', xy=(0, 0.5), xycoords=t, ha='right', va='center',
                     fontsize=12.5, fontweight='bold', color='black', zorder=6)

# (c) ne
axc.plot(ne_t, ne_v, color='black', lw=3.0, zorder=2)
axc.text(2.34, 0.338, '(c)', fontsize=20, va='center')
axc.text(3.03, 0.338, 'ne (10$^{20}$m$^{-3}$)', fontsize=20, fontweight='bold', va='center')

# (d) D-alpha
axd.fill_between(grass_t, 0.15, grass_v, color='black', lw=0, zorder=2)
axd.vlines(spike_t, 0.15, spike_h, color='black', lw=1.4, zorder=2)
axd.vlines(full_spike_t, 0.1, 5.13, color='black', lw=1.8, zorder=2)
axd.plot(base_t, base_v, color='black', lw=4.5, zorder=2)
axd.text(2.37, 4.31, '(d)', fontsize=20, va='center')

# labels
fig.text(0.027, 0.6086, 'V$_T$ (km/s)', rotation=90, fontsize=20, fontweight='bold',
         ha='center', va='center')
fig.text(0.031, 0.146, 'Dα (a.u)', rotation=90, fontsize=21, fontweight='bold',
         ha='center', va='center')
fig.text(0.5425, 0.0136, 'Time (sec)', fontsize=12.5, ha='center', va='center')
fig.text(0.521, 0.953, 'Typical magnetic braking discharge at lower q$_{95}$~6',
         fontsize=28, ha='center', va='baseline')

# fragments of the surrounding slide
fig.text(-0.005, -0.0125, 't magnetic braking', fontsize=36, fontweight='bold',
         ha='left', va='baseline')
fig.text(-0.012, 0.3236, '6', fontsize=30, fontweight='bold', color='#2828d2',
         ha='left', va='center')

fig.savefig('out.png', dpi=100)
